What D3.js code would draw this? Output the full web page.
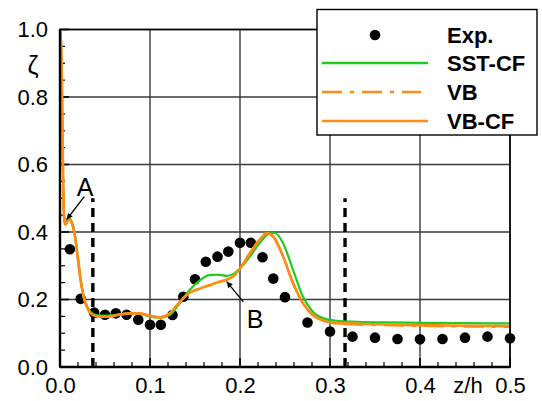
<!DOCTYPE html>
<html>
<head>
<meta charset="utf-8">
<script src="https://cdn.jsdelivr.net/npm/d3@7"></script>
<style>
  html, body { margin: 0; padding: 0; background: #fff; }
  svg { display: block; }
  text { font-family: "Liberation Sans", Arial, Helvetica, sans-serif; }
</style>
</head>
<body>
<svg id="chart" width="542" height="401"></svg>
<script>
// Experimental points
const expX = [0.011, 0.023, 0.038, 0.050, 0.062, 0.074, 0.087, 0.100, 0.112, 0.125,
              0.137, 0.150, 0.162, 0.175, 0.187, 0.200, 0.212, 0.225, 0.237, 0.250,
              0.275, 0.300, 0.325, 0.350, 0.375, 0.400, 0.425, 0.450, 0.475, 0.500];
const expY = [0.349, 0.202, 0.161, 0.155, 0.159, 0.155, 0.140, 0.125, 0.125, 0.154,
              0.208, 0.260, 0.312, 0.327, 0.342, 0.368, 0.368, 0.325, 0.262, 0.207,
              0.132, 0.105, 0.090, 0.087, 0.083, 0.082, 0.083, 0.087, 0.090, 0.085];

// Computed profiles
const vbcfX = [0, 0.0015, 0.0025, 0.0035, 0.0045, 0.0055, 0.007, 0.009, 0.011, 0.013,
               0.015, 0.017, 0.019, 0.021, 0.023, 0.025, 0.027, 0.030, 0.033, 0.036,
               0.040, 0.046, 0.052, 0.060, 0.068, 0.078, 0.088, 0.100, 0.111, 0.122,
               0.133, 0.144, 0.156, 0.167, 0.178, 0.185, 0.193, 0.200, 0.211, 0.222,
               0.2296, 0.237, 0.248, 0.259, 0.270, 0.281, 0.293, 0.307, 0.330, 0.360,
               0.400, 0.450, 0.500];
const vbcfY = [1.000, 0.930, 0.750, 0.550, 0.445, 0.422, 0.425, 0.436, 0.436, 0.428,
               0.410, 0.380, 0.340, 0.297, 0.255, 0.224, 0.200, 0.178, 0.163, 0.155,
               0.151, 0.149, 0.149, 0.152, 0.156, 0.159, 0.159, 0.152, 0.147, 0.159,
               0.193, 0.220, 0.233, 0.243, 0.253, 0.258, 0.270, 0.292, 0.337, 0.378,
               0.396, 0.386, 0.327, 0.248, 0.189, 0.154, 0.137, 0.130, 0.128, 0.126,
               0.124, 0.122, 0.121];

const vbX = vbcfX;
const vbY = [1.000, 0.930, 0.750, 0.550, 0.445, 0.422, 0.425, 0.436, 0.436, 0.428,
             0.410, 0.380, 0.340, 0.297, 0.255, 0.224, 0.200, 0.178, 0.163, 0.155,
             0.151, 0.149, 0.149, 0.152, 0.156, 0.159, 0.159, 0.152, 0.147, 0.159,
             0.193, 0.220, 0.233, 0.243, 0.253, 0.258, 0.270, 0.292, 0.337, 0.378,
             0.396, 0.386, 0.327, 0.248, 0.189, 0.154, 0.137, 0.129, 0.126, 0.124,
             0.122, 0.120, 0.119];

const sstX = [0, 0.0015, 0.0025, 0.0035, 0.0045, 0.0055, 0.007, 0.009, 0.011, 0.013,
              0.015, 0.017, 0.019, 0.021, 0.023, 0.025, 0.027, 0.030, 0.033, 0.036,
              0.040, 0.046, 0.052, 0.060, 0.068, 0.078, 0.088, 0.100, 0.111, 0.122,
              0.133, 0.144, 0.156, 0.167, 0.178, 0.185, 0.193, 0.200, 0.211, 0.222,
              0.233, 0.239, 0.248, 0.259, 0.270, 0.281, 0.293, 0.307, 0.330, 0.360,
              0.400, 0.450, 0.500];
const sstY = [1.000, 0.930, 0.750, 0.550, 0.448, 0.428, 0.430, 0.440, 0.440, 0.431,
              0.413, 0.383, 0.344, 0.301, 0.260, 0.228, 0.204, 0.181, 0.166, 0.158,
              0.154, 0.152, 0.152, 0.154, 0.157, 0.159, 0.158, 0.149, 0.146, 0.154,
              0.189, 0.228, 0.258, 0.273, 0.273, 0.270, 0.276, 0.292, 0.327, 0.368,
              0.396, 0.397, 0.366, 0.287, 0.208, 0.164, 0.144, 0.137, 0.134, 0.132,
              0.131, 0.130, 0.129];

// Axis ticks
const xTicks = [0.0, 0.1, 0.2, 0.3, 0.4, 0.5];
const xTickLabels = ["0.0", "0.1", "0.2", "0.3", "0.4", "0.5"];
const yTicks = [0.0, 0.2, 0.4, 0.6, 0.8, 1.0];
const yTickLabels = ["0.0", "0.2", "0.4", "0.6", "0.8", "1.0"];

// Interface positions (dashed markers)
const markerX = [0.0365, 0.3167];
const markerTop = 0.5;

// Annotations: label position and arrow from -> to, in data units
const notes = [
  { label: "A", lx: 0.0278, ly: 0.508, fx: 0.0270, fy: 0.505, tx: 0.0074, ty: 0.437 },
  { label: "B", lx: 0.2167, ly: 0.117, fx: 0.2037, fy: 0.193, tx: 0.1852, ty: 0.253 }
];

// Legend entries
const legendNames = ["Exp.", "SST-CF", "VB", "VB-CF"];

const green = "#1fcc1f";
const orange = "#ff8a14";

const svg = d3.select("#chart");
const W = 542, H = 401;
const margin = { left: 60, right: 32, top: 29.5, bottom: 34 };
const x = d3.scaleLinear().domain([0, 0.5]).range([margin.left, W - margin.right]);
const y = d3.scaleLinear().domain([0, 1]).range([H - margin.bottom, margin.top]);

// Grid
const grid = svg.append("g");
grid.selectAll("line.gx").data(xTicks.filter(v => v > 0 && v < 0.5)).enter()
  .append("line")
  .attr("x1", d => x(d)).attr("x2", d => x(d))
  .attr("y1", y(0)).attr("y2", y(1))
  .attr("stroke", "#3a3a3a").attr("stroke-width", 1.4);
grid.selectAll("line.gy").data(yTicks.filter(v => v > 0 && v < 1)).enter()
  .append("line")
  .attr("x1", x(0)).attr("x2", x(0.5))
  .attr("y1", d => y(d)).attr("y2", d => y(d))
  .attr("stroke", "#3a3a3a").attr("stroke-width", 1.4);

// Minor ticks (inside the frame)
const xMinor = d3.range(0.02, 0.5, 0.02).filter(v => Math.abs(v * 10 - Math.round(v * 10)) > 1e-6);
const yMinor = d3.range(0.05, 1, 0.05).filter(v => Math.abs(v * 5 - Math.round(v * 5)) > 1e-6);
svg.append("g").selectAll("line").data(xMinor).enter().append("line")
  .attr("x1", d => x(d)).attr("x2", d => x(d))
  .attr("y1", y(0)).attr("y2", y(0) - 5)
  .attr("stroke", "#000").attr("stroke-width", 1.2);
svg.append("g").selectAll("line").data(yMinor).enter().append("line")
  .attr("x1", x(0)).attr("x2", x(0) + 5)
  .attr("y1", d => y(d)).attr("y2", d => y(d))
  .attr("stroke", "#000").attr("stroke-width", 1.2);
// Major ticks
svg.append("g").selectAll("line").data(xTicks).enter().append("line")
  .attr("x1", d => x(d)).attr("x2", d => x(d))
  .attr("y1", y(0)).attr("y2", y(0) - 9)
  .attr("stroke", "#000").attr("stroke-width", 1.6);
svg.append("g").selectAll("line").data(yTicks).enter().append("line")
  .attr("x1", x(0)).attr("x2", x(0) + 9)
  .attr("y1", d => y(d)).attr("y2", d => y(d))
  .attr("stroke", "#000").attr("stroke-width", 1.6);

// Dashed interface markers
svg.append("g").selectAll("line").data(markerX).enter().append("line")
  .attr("x1", d => x(d)).attr("x2", d => x(d))
  .attr("y1", y(0)).attr("y2", y(markerTop))
  .attr("stroke", "#000").attr("stroke-width", 3.4)
  .attr("stroke-dasharray", "9,6");

// Experimental dots
const exp = expX.map((v, i) => [v, expY[i]]);
svg.append("g").selectAll("circle").data(exp).enter().append("circle")
  .attr("cx", d => x(d[0])).attr("cy", d => y(d[1])).attr("r", 5.3)
  .attr("fill", "#000");

// Curves
const line = d3.line().x(d => x(d[0])).y(d => y(d[1])).curve(d3.curveMonotoneX);
const sst = sstX.map((v, i) => [v, sstY[i]]);
const vb = vbX.map((v, i) => [v, vbY[i]]);
const vbcf = vbcfX.map((v, i) => [v, vbcfY[i]]);
svg.append("path").datum(sst).attr("d", line)
  .attr("fill", "none").attr("stroke", green).attr("stroke-width", 2.2);
svg.append("path").datum(vb).attr("d", line)
  .attr("fill", "none").attr("stroke", orange).attr("stroke-width", 2.4)
  .attr("stroke-dasharray", "20,8,4,8");
svg.append("path").datum(vbcf).attr("d", line)
  .attr("fill", "none").attr("stroke", orange).attr("stroke-width", 2.6);

// Frame
svg.append("rect")
  .attr("x", x(0)).attr("y", y(1))
  .attr("width", x(0.5) - x(0)).attr("height", y(0) - y(1))
  .attr("fill", "none").attr("stroke", "#000").attr("stroke-width", 1.8);
svg.append("line").attr("x1", x(0)).attr("x2", x(0.5)).attr("y1", y(0)).attr("y2", y(0))
  .attr("stroke", "#000").attr("stroke-width", 2.4);
svg.append("line").attr("x1", x(0)).attr("x2", x(0)).attr("y1", y(0)).attr("y2", y(1))
  .attr("stroke", "#000").attr("stroke-width", 2.4);

// Tick labels via axes (tick lines hidden; drawn above)
const xAxis = d3.axisBottom(x).tickValues(xTicks)
  .tickFormat((d, i) => xTickLabels[i]).tickSize(0).tickPadding(10);
const gx = svg.append("g").attr("transform", `translate(0,${y(0)})`).call(xAxis);
gx.select(".domain").remove();
gx.selectAll("text").attr("font-size", 22).attr("fill", "#000")
  .attr("font-family", "Liberation Sans, Arial, sans-serif").attr("dy", "0.71em");

const yAxis = d3.axisLeft(y).tickValues(yTicks)
  .tickFormat((d, i) => yTickLabels[i]).tickSize(0).tickPadding(12);
const gy = svg.append("g").attr("transform", `translate(${x(0)},0)`).call(yAxis);
gy.select(".domain").remove();
gy.selectAll("text").attr("font-size", 22).attr("fill", "#000")
  .attr("font-family", "Liberation Sans, Arial, sans-serif");

// Axis titles
svg.append("text").attr("x", 33).attr("y", 74).attr("text-anchor", "middle")
  .attr("font-size", 25).text("ζ");
svg.append("rect").attr("x", 444).attr("y", 373).attr("width", 48).attr("height", 24).attr("fill", "#fff");
svg.append("text").attr("x", 468).attr("y", 393).attr("text-anchor", "middle")
  .attr("font-size", 22).text("z/h");

// Annotations
const defs = svg.append("defs");
defs.append("marker").attr("id", "arrow").attr("viewBox", "0 0 10 10")
  .attr("refX", 10).attr("refY", 5).attr("markerWidth", 8).attr("markerHeight", 6)
  .attr("markerUnits", "userSpaceOnUse").attr("orient", "auto")
  .append("path").attr("d", "M0,0 L10,5 L0,10 Z").attr("fill", "#000");
notes.forEach(n => {
  if (n.label === "B") {
    svg.append("rect").attr("x", x(n.lx) - 14).attr("y", y(n.ly) - 26)
      .attr("width", 28).attr("height", 32).attr("fill", "#fff").attr("opacity", 0.85);
  }
  svg.append("line")
    .attr("x1", x(n.fx)).attr("y1", y(n.fy)).attr("x2", x(n.tx)).attr("y2", y(n.ty))
    .attr("stroke", "#000").attr("stroke-width", 1.3).attr("marker-end", "url(#arrow)");
  svg.append("text").attr("x", x(n.lx)).attr("y", y(n.ly))
    .attr("text-anchor", "middle").attr("font-size", 25).text(n.label);
});

// Legend
const lg = svg.append("g");
lg.append("rect").attr("x", 317).attr("y", 9.5).attr("width", 220).attr("height", 125.5)
  .attr("fill", "#fff").attr("stroke", "#000").attr("stroke-width", 1.4);
const rowY = [35, 63, 92, 121];
lg.append("circle").attr("cx", 375).attr("cy", rowY[0]).attr("r", 5.3).attr("fill", "#000");
lg.append("line").attr("x1", 322).attr("x2", 428).attr("y1", rowY[1]).attr("y2", rowY[1])
  .attr("stroke", green).attr("stroke-width", 2.4);
lg.append("line").attr("x1", 322).attr("x2", 421).attr("y1", rowY[2]).attr("y2", rowY[2])
  .attr("stroke", orange).attr("stroke-width", 2.4).attr("stroke-dasharray", "20,8,4,8");
lg.append("line").attr("x1", 322).attr("x2", 428).attr("y1", rowY[3]).attr("y2", rowY[3])
  .attr("stroke", orange).attr("stroke-width", 2.6);
lg.selectAll("text.lbl").data(legendNames).enter().append("text")
  .attr("x", 447).attr("y", (d, i) => rowY[i] + 8)
  .attr("font-size", 22).attr("font-weight", "bold").text(d => d);
</script>
</body>
</html>
